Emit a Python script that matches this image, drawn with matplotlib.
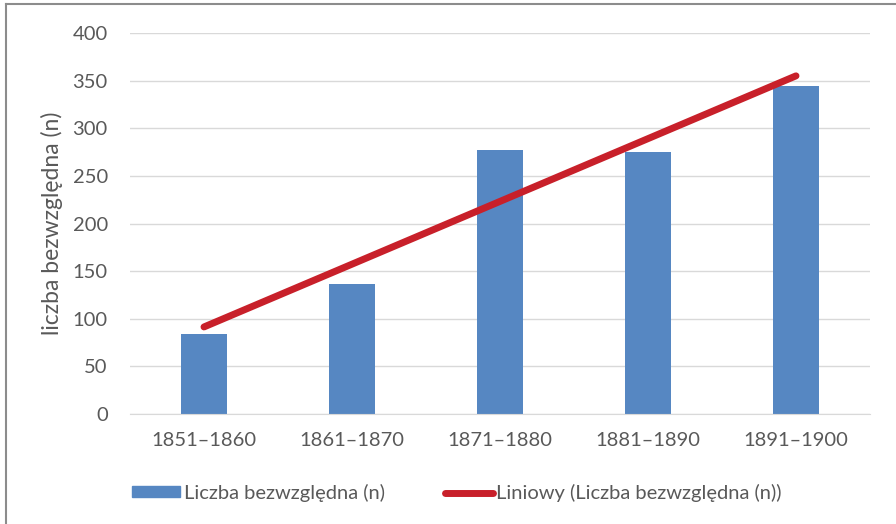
import matplotlib
matplotlib.use("Agg")
import matplotlib.pyplot as plt
import numpy as np
from matplotlib.lines import Line2D

categories = ["1851–1860", "1861–1870", "1871–1880", "1881–1890", "1891–1900"]
values = [84, 136, 277, 275, 344]
yticks = [0, 50, 100, 150, 200, 250, 300, 350, 400]
series_name = "Liczba bezwzględna (n)"
trend_name = "Liniowy (Liczba bezwzględna (n))"
ylabel = "liczba bezwzględna (n)"

plt.rcParams['font.family'] = ['Lato', 'DejaVu Sans']
text_color = "#595959"
bar_color = "#5687C2"
line_color = "#C8202A"

fig = plt.figure(figsize=(8.96, 5.24), dpi=100)
ax = fig.add_axes([130/896, 1-414/524, 740/896, 381/524])

x = np.arange(len(categories))
ax.bar(x, values, width=0.31, color=bar_color, zorder=2)

coef = np.polyfit(x, values, 1)
trend = np.polyval(coef, x)
ax.plot(x, trend, color=line_color, lw=5, solid_capstyle='round', zorder=3)

ax.set_xlim(-0.5, len(categories) - 0.5)
ax.set_ylim(0, 400)
ax.set_yticks(yticks)
ax.set_xticks(x)
ax.set_xticklabels(categories)
ax.grid(axis='y', color='#D9D9D9', lw=1, zorder=0)
for s in ['top', 'right', 'left']:
    ax.spines[s].set_visible(False)
ax.spines['bottom'].set_color('#D9D9D9')
ax.tick_params(axis='both', length=0, labelsize=14.5, labelcolor=text_color)
ax.tick_params(axis='x', pad=13)
ax.tick_params(axis='y', pad=16)
ax.set_ylabel(ylabel, fontsize=16.5, color=text_color)
ax.yaxis.set_label_coords(-0.091, 0.5)

handles = [
    plt.Rectangle((0, 0), 1, 1, color=bar_color),
    Line2D([0], [0], color=line_color, lw=5, solid_capstyle='round'),
]
leg = fig.legend(handles, [series_name, trend_name], loc='center',
                 bbox_to_anchor=(0.510, 1 - 493/524), ncol=2, frameon=False,
                 fontsize=14.5, handlelength=2.4, handleheight=0.45,
                 handletextpad=0.15, columnspacing=3.0)
for t in leg.get_texts():
    t.set_color(text_color)

fig.add_artist(Line2D([6/896, 6/896], [0, 1 - 4/524], color='#8C8C8C', lw=1.5,
                      transform=fig.transFigure))
fig.add_artist(Line2D([6/896, 1], [1 - 4/524, 1 - 4/524], color='#8C8C8C', lw=1.5,
                      transform=fig.transFigure))

fig.savefig("out.png", dpi=100)
